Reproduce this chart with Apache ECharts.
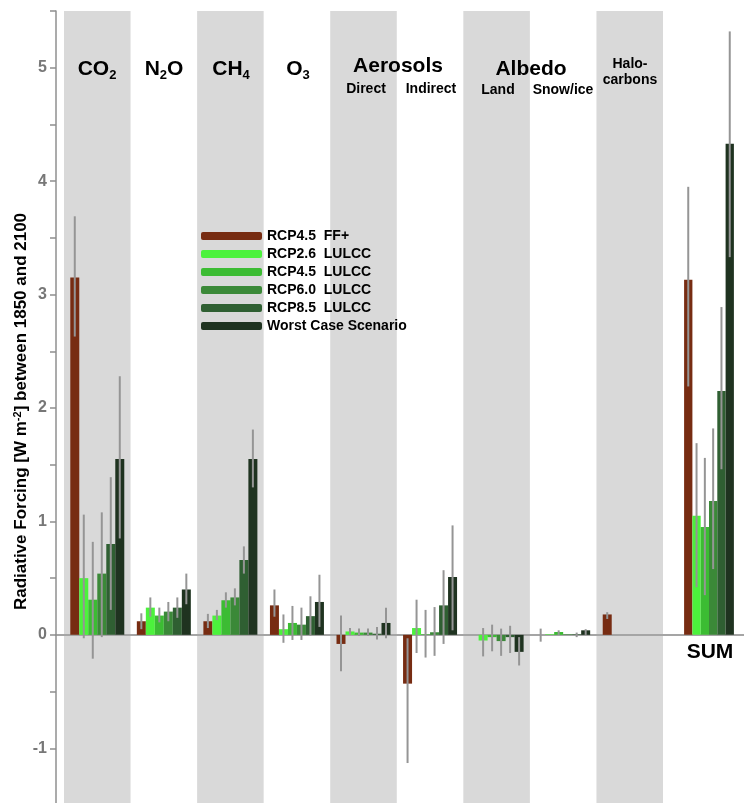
<!DOCTYPE html>
<html>
<head>
<meta charset="utf-8">
<script src="https://cdn.jsdelivr.net/npm/echarts@6/dist/echarts.min.js"></script>
<style>
  html, body { margin: 0; padding: 0; background: #fff; }
  #main { width: 744px; height: 803px; }
</style>
</head>
<body>
<div id="main"></div>
<script>
// categories of the forcing agents (SUM sits in its own little grid)
var categories = ['CO2', 'N2O', 'CH4', 'O3', 'Direct', 'Indirect', 'Land', 'Snow/ice', 'Halocarbons'];
var sumCategory = ['SUM'];
var seriesNames = ['RCP4.5  FF+', 'RCP2.6  LULCC', 'RCP4.5  LULCC', 'RCP6.0  LULCC', 'RCP8.5  LULCC', 'Worst Case Scenario'];
var seriesColors = ['#772c12', '#4cf23c', '#3cbc33', '#3b8938', '#2f5f32', '#1f3320'];

// values, last entry = SUM
var ff45   = [3.15, 0.12, 0.12, 0.26, -0.08, -0.43, 0, 0, 0.18, 3.13];
var lu26   = [0.50, 0.24, 0.17, 0.05, 0.03, 0.06, -0.05, 0.005, 0, 1.05];
var lu45   = [0.31, 0.17, 0.305, 0.105, 0.02, 0.005, -0.02, 0.025, 0, 0.95];
var lu60   = [0.54, 0.205, 0.33, 0.09, 0.02, 0.023, -0.055, 0.005, 0, 1.18];
var lu85   = [0.80, 0.24, 0.66, 0.165, 0.01, 0.26, -0.02, 0.005, 0, 2.15];
var worst  = [1.55, 0.40, 1.55, 0.29, 0.105, 0.51, -0.15, 0.04, 0, 4.33];

// uncertainty ranges (low / high), null = no bar
var ff45Lo  = [2.63, 0.05, 0.06, 0.16, -0.32, -1.13, null, -0.06, 0.14, 2.19];
var ff45Hi  = [3.69, 0.19, 0.185, 0.40, 0.17, -0.03, null, 0.055, 0.20, 3.95];
var lu26Lo  = [-0.03, 0.16, 0.13, -0.07, 0.0, -0.16, -0.19, null, null, 0.42];
var lu26Hi  = [1.06, 0.33, 0.22, 0.18, 0.06, 0.31, 0.06, null, null, 1.69];
var lu45Lo  = [-0.21, 0.11, 0.24, -0.045, -0.01, -0.20, -0.145, 0.0, null, 0.35];
var lu45Hi  = [0.82, 0.24, 0.375, 0.255, 0.055, 0.22, 0.09, 0.04, null, 1.56];
var lu60Lo  = [-0.02, 0.12, 0.26, -0.045, -0.01, -0.185, -0.185, null, null, 0.58];
var lu60Hi  = [1.08, 0.29, 0.41, 0.24, 0.055, 0.245, 0.055, null, null, 1.82];
var lu85Lo  = [0.22, 0.15, 0.54, -0.005, -0.04, -0.08, -0.16, -0.02, null, 1.46];
var lu85Hi  = [1.39, 0.33, 0.78, 0.34, 0.07, 0.57, 0.08, 0.02, null, 2.89];
var worstLo = [0.85, 0.27, 1.30, 0.07, -0.03, 0.04, -0.27, 0.0, null, 3.33];
var worstHi = [2.28, 0.54, 1.81, 0.53, 0.24, 0.965, -0.02, 0.05, null, 5.32];

var values = [ff45, lu26, lu45, lu60, lu85, worst];
var lows = [ff45Lo, lu26Lo, lu45Lo, lu60Lo, lu85Lo, worstLo];
var highs = [ff45Hi, lu26Hi, lu45Hi, lu60Hi, lu85Hi, worstHi];

var FONT = '"Liberation Sans", Arial, sans-serif';
var Y_MIN = -1.5, Y_MAX = 5.5;
var BW1 = 9, BW2 = 8.3;
var n = categories.length;

var chart = echarts.init(document.getElementById('main'));

function hiddenY (gi) {
  return { type: 'value', gridIndex: gi, min: Y_MIN, max: Y_MAX, interval: 0.5, show: false };
}

function errorSeries (gi, xi, bw, from, to) {
  var data = [];
  for (var s = 0; s < values.length; s++) {
    for (var c = from; c < to; c++) {
      if (lows[s][c] != null) data.push([c - from, s, lows[s][c], highs[s][c]]);
    }
  }
  return {
    type: 'custom',
    xAxisIndex: xi,
    yAxisIndex: gi,
    z: 5,
    silent: true,
    encode: { x: 0, y: [2, 3] },
    data: data,
    renderItem: function (params, api) {
      var c = api.value(0), s = api.value(1);
      var x = api.coord([c, 0])[0] + (s - 2.5) * bw;
      var p1 = api.coord([c, api.value(2)]);
      var p2 = api.coord([c, api.value(3)]);
      return {
        type: 'line',
        shape: { x1: x, y1: p1[1], x2: x, y2: p2[1] },
        style: { stroke: '#959595', lineWidth: 2 }
      };
    }
  };
}

var series = [];
values.forEach(function (v, i) {
  series.push({
    name: seriesNames[i], type: 'bar', xAxisIndex: 1, yAxisIndex: 1,
    barWidth: BW1, barGap: '0%', itemStyle: { color: seriesColors[i] },
    data: v.slice(0, n)
  });
  series.push({
    name: seriesNames[i], type: 'bar', xAxisIndex: 2, yAxisIndex: 2,
    barWidth: BW2, barGap: '0%', itemStyle: { color: seriesColors[i] },
    data: v.slice(n)
  });
});
series.push(errorSeries(1, 1, BW1, 0, n));
series.push(errorSeries(2, 2, BW2, n, n + 1));

var big = { fontSize: 21, fontWeight: 'bold', fontFamily: FONT, fill: '#000' };
var small = { fontSize: 14, fontWeight: 'bold', fontFamily: FONT, fill: '#000' };
var subRich = { sub: { fontSize: 13, fontWeight: 'bold', fontFamily: FONT, padding: [12, 0, 0, 0] } };

function label (txt, x, y, st, rich) {
  return {
    type: 'text', x: x, y: y, silent: true, z: 10,
    style: Object.assign({ text: txt, align: 'center', verticalAlign: 'middle', rich: rich }, st)
  };
}

chart.setOption({
  animation: false,
  backgroundColor: '#fff',
  grid: [
    { left: 56, right: 0, top: 11, height: 794, outerBoundsMode: 'none' },
    { left: 64, width: 599, top: 11, height: 794, outerBoundsMode: 'none' },
    { left: 676, width: 66, top: 11, height: 794, outerBoundsMode: 'none' }
  ],
  xAxis: [
    {
      type: 'value', gridIndex: 0, min: 0, max: 1, z: 1,
      axisLine: { show: true, onZero: true, lineStyle: { color: '#a5a5a5', width: 2 } },
      axisTick: { show: false }, axisLabel: { show: false }, splitLine: { show: false }
    },
    {
      type: 'category', gridIndex: 1, data: categories,
      axisLine: { show: false },
      axisTick: { show: false, interval: 0 },
      axisLabel: { show: false, interval: 0 },
      splitLine: { show: false, interval: 0 },
      splitArea: { show: true, interval: 0, areaStyle: { color: ['#d9d9d9', 'rgba(255,255,255,0)'] } }
    },
    {
      type: 'category', gridIndex: 2, data: sumCategory, show: false
    }
  ],
  yAxis: [
    {
      type: 'value', gridIndex: 0, min: Y_MIN, max: Y_MAX, interval: 0.5, z: 3,
      axisLine: { show: true, lineStyle: { color: '#8f8f8f', width: 1.5 } },
      axisTick: { show: true, length: 6, lineStyle: { color: '#8f8f8f', width: 1.5 } },
      splitLine: { show: false },
      axisLabel: {
        margin: 9, color: '#777', fontSize: 16, fontWeight: 'bold', fontFamily: FONT,
        formatter: function (v) { return Number.isInteger(v) ? String(v) : ''; }
      },
      name: 'Radiative Forcing [W m{sup|-2}] between 1850 and 2100',
      nameLocation: 'middle', nameGap: 25, nameMoveOverlap: false,
      nameTextStyle: {
        color: '#000', fontSize: 17, fontWeight: 'bold', fontFamily: FONT,
        padding: [0, 7, 0, 0],
        rich: { sup: { fontSize: 11, fontWeight: 'bold', fontFamily: FONT, padding: [0, 0, 8, 0] } }
      }
    },
    hiddenY(1),
    hiddenY(2)
  ],
  legend: {
    data: seriesNames,
    orient: 'vertical', left: 201, top: 228, padding: 0,
    itemWidth: 61, itemHeight: 8, itemGap: 2, icon: 'roundRect',
    selectedMode: false,
    textStyle: { fontSize: 14, fontWeight: 'bold', fontFamily: FONT, color: '#000', lineHeight: 16 }
  },
  graphic: [
    label('CO{sub|2}', 97, 69, big, subRich),
    label('N{sub|2}O', 164, 69, big, subRich),
    label('CH{sub|4}', 231, 69, big, subRich),
    label('O{sub|3}', 298, 69, big, subRich),
    label('Aerosols', 398, 66, big),
    label('Albedo', 531, 69, big),
    label('Direct', 366, 89, small),
    label('Indirect', 431, 89, small),
    label('Land', 498, 90.5, small),
    label('Snow/ice', 563, 90.5, small),
    label('Halo-', 630, 64, small),
    label('carbons', 630, 80, small),
    label('SUM', 710, 652, big)
  ],
  series: series
});
</script>
</body>
</html>
